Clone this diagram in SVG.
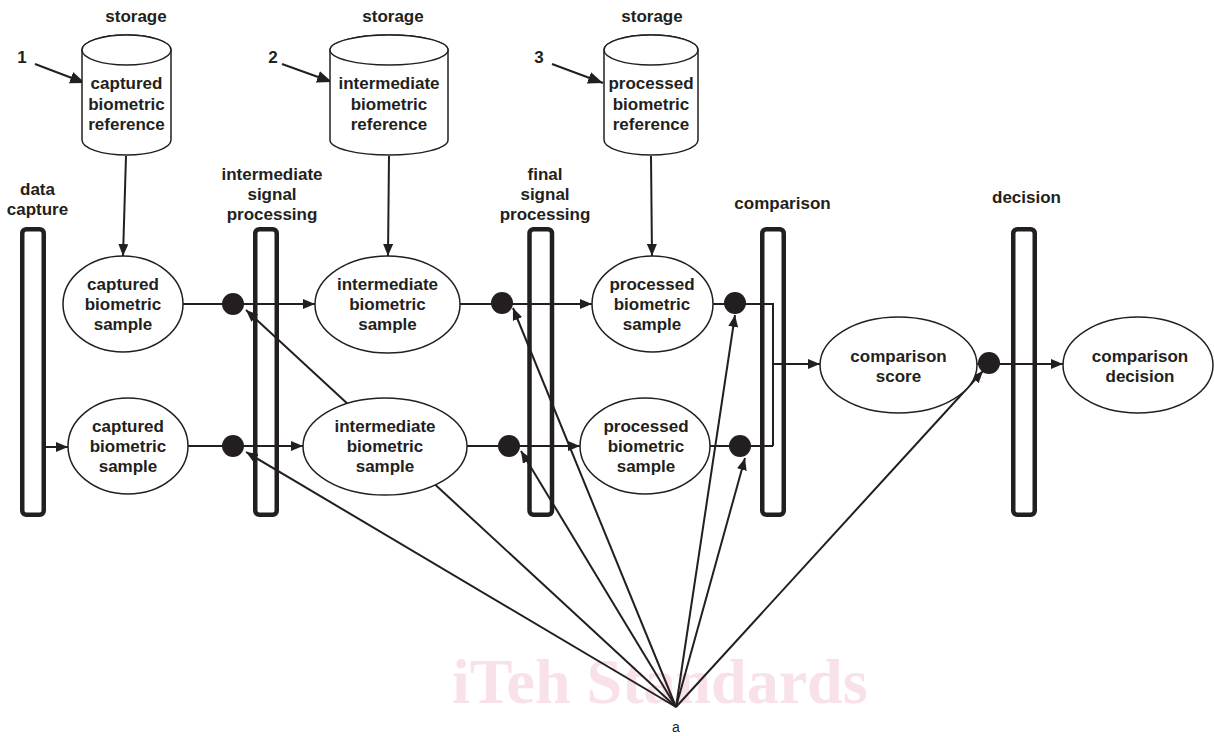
<svg xmlns="http://www.w3.org/2000/svg" width="1214" height="736" viewBox="0 0 1214 736">
<defs>
<style>
.t{font-family:"Liberation Sans",Arial,sans-serif;font-weight:bold;font-size:17px;fill:#231f20;text-anchor:middle}
.n{font-family:"Liberation Sans",Arial,sans-serif;font-size:14px;fill:#231f20;text-anchor:middle}
.wm{font-family:"Liberation Serif","Times New Roman",serif;font-weight:bold;fill:#f8e1e8}
.el{fill:#fff;stroke:#231f20;stroke-width:1.5}
.cyl{fill:#fff;stroke:#231f20;stroke-width:1.5}
.bar{fill:none;stroke:#231f20;stroke-width:4.5}
.ln{fill:none;stroke:#231f20;stroke-width:2}
.dl{fill:none;stroke:#231f20;stroke-width:2}
.dot{fill:#231f20}
</style>
<marker id="ah" markerWidth="12" markerHeight="10" refX="12" refY="5" orient="auto" markerUnits="userSpaceOnUse"><path d="M0,0 L12,5 L0,10 z" fill="#231f20"/></marker>
<marker id="ahb" markerWidth="15" markerHeight="12" refX="15" refY="6" orient="auto" markerUnits="userSpaceOnUse"><path d="M0,0 L15,6 L0,12 z" fill="#231f20"/></marker>
</defs>
<rect width="1214" height="736" fill="#fff"/>
<g id="watermark">
<text class="wm" x="452" y="703" font-size="64">iTeh Standards</text>
</g>
<g id="connectors">
<path class="dl" d="M676,707 L246,310" marker-end="url(#ah)"/>
<path class="dl" d="M676,707 L246,452" marker-end="url(#ah)"/>
<path class="dl" d="M676,707 L513,308" marker-end="url(#ah)"/>
<path class="dl" d="M676,707 L521,451" marker-end="url(#ah)"/>
<path class="dl" d="M676,707 L735,315" marker-end="url(#ah)"/>
<path class="dl" d="M676,707 L745,458" marker-end="url(#ah)"/>
<path class="dl" d="M676,707 L983,371" marker-end="url(#ah)"/>
<path class="ln" d="M35,64 L85,83" stroke-width="2.5" marker-end="url(#ahb)"/>
<path class="ln" d="M282,64 L332,82" stroke-width="2.5" marker-end="url(#ahb)"/>
<path class="ln" d="M552,64 L603,83" stroke-width="2.5" marker-end="url(#ahb)"/>
<path class="ln" d="M126,156 L123,256" marker-end="url(#ah)"/>
<path class="ln" d="M389,156 L388,256" marker-end="url(#ah)"/>
<path class="ln" d="M651,156 L652,256" marker-end="url(#ah)"/>
<path class="ln" d="M183,304 H315" marker-end="url(#ah)"/>
<path class="ln" d="M460,304 H592" marker-end="url(#ah)"/>
<path class="ln" d="M713,304 H773 V446"/>
<path class="ln" d="M45,447 H68" marker-end="url(#ah)"/>
<path class="ln" d="M188,446 H303" marker-end="url(#ah)"/>
<path class="ln" d="M467,446 H580" marker-end="url(#ah)"/>
<path class="ln" d="M710,446 H773"/>
<path class="ln" d="M773,364 H820" stroke-width="2.5" marker-end="url(#ah)"/>
<path class="ln" d="M977,364 H1063" marker-end="url(#ah)"/>
<circle class="dot" cx="233" cy="304" r="11"/>
<circle class="dot" cx="233" cy="446" r="11"/>
<circle class="dot" cx="502" cy="303" r="11"/>
<circle class="dot" cx="509" cy="446" r="11"/>
<circle class="dot" cx="735" cy="303" r="11"/>
<circle class="dot" cx="740" cy="446" r="11"/>
<circle class="dot" cx="989" cy="363" r="11"/>
</g>
<g id="label-a"><text class="n" x="676" y="732">a</text></g>
<g id="storage1">
<text class="t" x="136" y="22">storage</text>
<text class="t" x="22" y="63">1</text>
<path class="cyl" d="M82,50 A44.5,15 0 0 1 171,50 L171,140 A44.5,15 0 0 1 82,140 Z"/>
<ellipse class="cyl" cx="126.5" cy="50" rx="44.5" ry="15"/>
<text class="t" x="126.5" y="89">captured</text>
<text class="t" x="126.5" y="109.5">biometric</text>
<text class="t" x="126.5" y="130">reference</text>
</g>
<g id="storage2">
<text class="t" x="393" y="22">storage</text>
<text class="t" x="273" y="63">2</text>
<path class="cyl" d="M330,50 A59,15 0 0 1 448,50 L448,140 A59,15 0 0 1 330,140 Z"/>
<ellipse class="cyl" cx="389" cy="50" rx="59" ry="15"/>
<text class="t" x="389" y="89">intermediate</text>
<text class="t" x="389" y="109.5">biometric</text>
<text class="t" x="389" y="130">reference</text>
</g>
<g id="storage3">
<text class="t" x="652" y="22">storage</text>
<text class="t" x="539" y="63">3</text>
<path class="cyl" d="M604,50 A47,15 0 0 1 698,50 L698,140 A47,15 0 0 1 604,140 Z"/>
<ellipse class="cyl" cx="651" cy="50" rx="47" ry="15"/>
<text class="t" x="651" y="89">processed</text>
<text class="t" x="651" y="109.5">biometric</text>
<text class="t" x="651" y="130">reference</text>
</g>
<g id="bar-data-capture">
<text class="t" x="37.5" y="195">data</text>
<text class="t" x="37.5" y="215">capture</text>
<rect class="bar" x="22.25" y="229.25" width="21.5" height="285.5" rx="4"/>
</g>
<g id="bar-intermediate">
<text class="t" x="272" y="180">intermediate</text>
<text class="t" x="272" y="200">signal</text>
<text class="t" x="272" y="220">processing</text>
<rect class="bar" x="255.25" y="229.25" width="21.5" height="285.5" rx="4"/>
</g>
<g id="bar-final">
<text class="t" x="545" y="180">final</text>
<text class="t" x="545" y="200">signal</text>
<text class="t" x="545" y="220">processing</text>
<rect class="bar" x="529.5" y="229.25" width="22.5" height="285.5" rx="4"/>
</g>
<g id="bar-comparison">
<text class="t" x="782.5" y="209">comparison</text>
<rect class="bar" x="762.25" y="229.25" width="21.5" height="285.5" rx="4"/>
</g>
<g id="bar-decision">
<text class="t" x="1026.5" y="203">decision</text>
<rect class="bar" x="1013.25" y="229.25" width="21.5" height="285.5" rx="4"/>
</g>
<g id="captured1">
<ellipse class="el" cx="123" cy="304" rx="60" ry="48"/>
<text class="t" x="123" y="290">captured</text>
<text class="t" x="123" y="310">biometric</text>
<text class="t" x="123" y="330">sample</text>
</g>
<g id="captured2">
<ellipse class="el" cx="128" cy="446" rx="60" ry="48"/>
<text class="t" x="128" y="432">captured</text>
<text class="t" x="128" y="452">biometric</text>
<text class="t" x="128" y="472">sample</text>
</g>
<g id="intermediate1">
<ellipse class="el" cx="387.5" cy="304.5" rx="72.5" ry="48.5"/>
<text class="t" x="387.5" y="290">intermediate</text>
<text class="t" x="387.5" y="310">biometric</text>
<text class="t" x="387.5" y="330">sample</text>
</g>
<g id="intermediate2">
<ellipse class="el" cx="385" cy="446.5" rx="82" ry="48.5"/>
<text class="t" x="385" y="432">intermediate</text>
<text class="t" x="385" y="452">biometric</text>
<text class="t" x="385" y="472">sample</text>
</g>
<g id="processed1">
<ellipse class="el" cx="652.5" cy="304" rx="60.5" ry="48"/>
<text class="t" x="652" y="290">processed</text>
<text class="t" x="652" y="310">biometric</text>
<text class="t" x="652" y="330">sample</text>
</g>
<g id="processed2">
<ellipse class="el" cx="645" cy="446" rx="65" ry="48"/>
<text class="t" x="646" y="432">processed</text>
<text class="t" x="646" y="452">biometric</text>
<text class="t" x="646" y="472">sample</text>
</g>
<g id="comparison-score">
<ellipse class="el" cx="898.5" cy="365" rx="78.5" ry="48"/>
<text class="t" x="898.5" y="362">comparison</text>
<text class="t" x="898.5" y="382">score</text>
</g>
<g id="comparison-decision">
<ellipse class="el" cx="1138" cy="365" rx="75" ry="48"/>
<text class="t" x="1140" y="362">comparison</text>
<text class="t" x="1140" y="382">decision</text>
</g>
</svg>
